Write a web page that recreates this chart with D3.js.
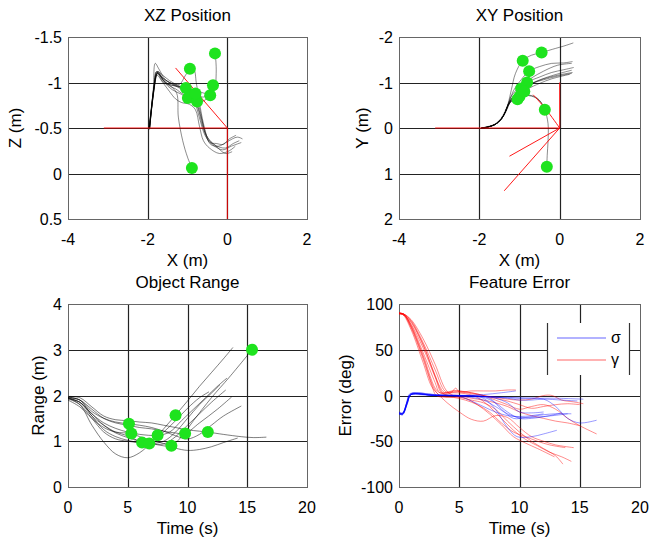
<!DOCTYPE html>
<html>
<head>
<meta charset="utf-8">
<script src="https://cdn.jsdelivr.net/npm/d3@7"></script>
<style>
  body { margin: 0; background: #fff; }
  svg text { font-family: "Liberation Sans", Arial, Helvetica, sans-serif; fill: #000; }
</style>
</head>
<body>
<svg id="fig" width="649" height="540"></svg>
<script>
// ---- data ----

// XZ position: gray tracks [x, z]
var xzTraces = [
  [[-1.97,-0.5],[-1.86,-0.85],[-1.77,-1.12],[-1.65,-1.06],[-1.45,-1.0],[-1.25,-0.95],[-1.05,-0.9],[-0.87,-0.83],[-0.74,-0.72],[-0.62,-0.52],[-0.5,-0.4],[-0.3,-0.31],[-0.05,-0.28],[0.15,-0.33],[0.3,-0.36]],
  [[-1.96,-0.48],[-1.86,-0.92],[-1.81,-1.21],[-1.72,-1.15],[-1.55,-1.03],[-1.35,-0.98],[-1.15,-0.94],[-0.95,-0.88],[-0.8,-0.76],[-0.68,-0.58],[-0.56,-0.42],[-0.38,-0.32],[-0.12,-0.26],[0.1,-0.3],[0.35,-0.34]],
  [[-1.95,-0.5],[-1.84,-0.95],[-1.76,-1.1],[-1.6,-1.02],[-1.42,-0.96],[-1.27,-0.88],[-1.23,-0.62],[-1.12,-0.36],[-1.0,-0.18],[-0.89,-0.06]],
  [[-1.95,-0.5],[-1.83,-0.95],[-1.74,-1.12],[-1.6,-1.04],[-1.4,-0.99],[-1.2,-0.98],[-1.05,-1.08],[-0.94,-1.14],[-0.84,-1.14],[-0.78,-1.0],[-0.7,-0.78],[-0.6,-0.55],[-0.48,-0.38],[-0.28,-0.3],[-0.05,-0.22],[0.12,-0.24]],
  [[-1.96,-0.5],[-1.82,-1.0],[-1.74,-1.1],[-1.55,-1.0],[-1.3,-0.96],[-1.0,-0.93],[-0.72,-0.9],[-0.48,-0.88],[-0.32,-0.95],[-0.28,-1.1],[-0.29,-1.25],[-0.31,-1.32]],
  [[-1.95,-0.5],[-1.83,-0.97],[-1.76,-1.1],[-1.6,-1.0],[-1.4,-0.97],[-1.1,-0.95],[-0.85,-0.9],[-0.6,-0.84],[-0.45,-0.9],[-0.36,-0.97]],
  [[-1.96,-0.49],[-1.84,-0.93],[-1.75,-1.11],[-1.58,-1.0],[-1.38,-0.92],[-1.15,-0.87],[-0.9,-0.8],[-0.7,-0.78],[-0.52,-0.82],[-0.43,-0.86]],
  [[-1.95,-0.5],[-1.85,-0.9],[-1.77,-1.08],[-1.62,-1.0],[-1.45,-0.9],[-1.3,-0.82],[-1.15,-0.78],[-0.95,-0.76],[-0.8,-0.7],[-0.7,-0.52],[-0.6,-0.36],[-0.45,-0.28],[-0.2,-0.22],[0.05,-0.25],[0.2,-0.3]],
  [[-1.96,-0.5],[-1.85,-0.93],[-1.78,-1.12],[-1.64,-1.05],[-1.48,-0.97],[-1.3,-0.93],[-1.1,-0.87],[-0.9,-0.85],[-0.78,-0.78],[-0.66,-0.62],[-0.55,-0.45],[-0.42,-0.32],[-0.22,-0.3],[0.0,-0.35],[0.25,-0.4],[0.38,-0.38]],
  [[-1.95,-0.5],[-1.84,-0.96],[-1.76,-1.12],[-1.62,-1.08],[-1.45,-1.02],[-1.25,-0.97],[-1.05,-0.92],[-0.85,-0.86],[-0.72,-0.75],[-0.64,-0.6],[-0.56,-0.44],[-0.44,-0.34],[-0.28,-0.33],[-0.1,-0.32],[0.05,-0.38],[0.22,-0.42]]
];
var xzDots = [[-0.31,-1.32],[-0.94,-1.15],[-0.36,-0.97],[-1.04,-0.94],[-0.89,-0.86],[-0.99,-0.83],[-0.76,-0.79],[-0.43,-0.86],[-0.89,-0.06],[-0.8,-0.88]];
var xzRed = [
  [[-3.1,-0.5],[0,-0.5]],
  [[0,-0.5],[0,0.5]],
  [[0,-0.5],[-1.3,-1.16]]
];

// XY position: gray tracks [x, y]
var xyTraces = [
  [[-1.95,0.0],[-1.8,-0.02],[-1.6,-0.08],[-1.45,-0.2],[-1.35,-0.36],[-1.28,-0.55],[-1.2,-0.85],[-1.1,-1.2],[-0.92,-1.48],[-0.7,-1.6],[-0.45,-1.66],[-0.1,-1.75],[0.1,-1.8],[0.34,-1.87]],
  [[-1.95,0.0],[-1.8,-0.02],[-1.6,-0.08],[-1.45,-0.2],[-1.35,-0.36],[-1.27,-0.55],[-1.15,-0.82],[-0.95,-1.07],[-0.76,-1.25],[-0.5,-1.35],[-0.2,-1.42],[0.1,-1.43],[0.32,-1.46]],
  [[-1.94,0.01],[-1.78,-0.02],[-1.6,-0.09],[-1.46,-0.21],[-1.36,-0.37],[-1.28,-0.52],[-1.1,-0.75],[-0.81,-1.0],[-0.5,-1.12],[-0.2,-1.22],[0.1,-1.28],[0.35,-1.33]],
  [[-1.95,0.0],[-1.8,-0.03],[-1.62,-0.08],[-1.46,-0.2],[-1.35,-0.35],[-1.28,-0.52],[-1.15,-0.7],[-0.9,-0.88],[-0.6,-1.02],[-0.3,-1.12],[0.0,-1.2],[0.3,-1.27]],
  [[-1.95,0.01],[-1.8,-0.02],[-1.6,-0.08],[-1.45,-0.2],[-1.34,-0.35],[-1.27,-0.5],[-1.2,-0.62],[-0.96,-0.87],[-0.7,-0.98],[-0.4,-1.06],[-0.1,-1.13],[0.3,-1.2]],
  [[-1.95,0.0],[-1.8,-0.02],[-1.6,-0.08],[-1.45,-0.2],[-1.35,-0.36],[-1.28,-0.5],[-1.2,-0.6],[-1.05,-0.65],[-0.8,-0.85],[-0.5,-0.98],[-0.2,-1.08],[0.25,-1.18]],
  [[-1.95,0.0],[-1.8,-0.02],[-1.6,-0.08],[-1.45,-0.2],[-1.35,-0.36],[-1.28,-0.5],[-1.2,-0.6],[-1.05,-0.68],[-0.75,-0.72],[-0.55,-0.65],[-0.42,-0.5],[-0.37,-0.4]],
  [[-1.95,0.0],[-1.8,-0.02],[-1.6,-0.08],[-1.45,-0.2],[-1.35,-0.36],[-1.28,-0.5],[-1.18,-0.6],[-1.0,-0.7],[-0.7,-0.7],[-0.5,-0.6],[-0.37,-0.4],[-0.29,-0.1],[-0.29,0.3],[-0.31,0.6],[-0.32,0.85]],
  [[-1.95,0.0],[-1.8,-0.02],[-1.6,-0.08],[-1.45,-0.2],[-1.35,-0.36],[-1.28,-0.52],[-1.2,-0.7],[-0.95,-0.95],[-0.7,-1.1],[-0.4,-1.25],[-0.05,-1.38],[0.3,-1.42]],
  [[-1.95,0.0],[-1.8,-0.02],[-1.6,-0.08],[-1.45,-0.2],[-1.35,-0.36],[-1.28,-0.52],[-1.18,-0.66],[-1.0,-0.8],[-0.7,-0.97],[-0.4,-1.08],[-0.05,-1.16],[0.32,-1.22]]
];
var xyDots = [[-0.92,-1.48],[-0.45,-1.66],[-0.76,-1.25],[-0.81,-1.0],[-0.96,-0.87],[-1.0,-0.69],[-1.05,-0.63],[-0.37,-0.4],[-0.32,0.85],[-0.88,-0.8]];
var xyRed = [
  [[-3.1,0],[0,0]],
  [[0,0],[0,-1]],
  [[0,0],[-0.35,-0.42],[-0.66,-0.73]],
  [[0,0],[-1.25,0.62]],
  [[0,0],[-1.38,1.38]]
];

// Object range: [time s, range m]
var rangeTraces = [
  [[0,1.95],[1,1.8],[2,1.35],[3,0.98],[4,0.72],[5,0.64],[6,0.75],[7,0.98],[8,1.27],[9,1.57],[10,1.88],[11,2.2],[12,2.5],[13,2.8],[13.8,3.05]],
  [[0,1.93],[1,1.85],[2,1.6],[3,1.35],[4,1.18],[5,1.08],[6,1.0],[7,0.95],[8,0.9],[8.65,0.9],[9.5,1.1],[10.5,1.45],[12,1.95],[13.5,2.4],[15.4,3.0]],
  [[0,1.96],[1,1.9],[2,1.55],[3,1.25],[4,1.1],[5,1.02],[6,0.97],[6.8,0.95],[8,1.0],[9,1.2],[10,1.5],[11,1.8],[12,2.05],[12.7,2.23]],
  [[0,1.95],[1,1.85],[2,1.55],[3,1.35],[4,1.2],[5,1.12],[6,1.0],[7,0.95],[8,0.94],[9,1.1],[10,1.35],[11,1.6],[12,1.85],[13.2,2.12]],
  [[0,1.97],[1,1.9],[2,1.7],[3,1.5],[4,1.4],[5,1.35],[6,1.3],[7,1.27],[8,1.22],[9,1.18],[9.8,1.17],[11,1.4],[12.5,1.7],[13.7,1.97]],
  [[0,1.98],[1,1.95],[2,1.75],[3,1.55],[4,1.47],[5,1.45],[6,1.42],[7,1.4],[8,1.35],[9,1.3],[10,1.25],[11,1.22],[11.7,1.2],[13,1.15],[14.5,1.1],[15.5,1.08],[16.6,1.09]],
  [[0,1.95],[1,1.9],[2,1.65],[3,1.5],[4,1.42],[5.1,1.38],[6,1.35],[7,1.3],[8,1.22],[9,1.12],[10,1.05],[11,1.15],[12,1.35],[13,1.55],[14.5,1.77]],
  [[0,1.9],[1,1.75],[2,1.5],[3,1.3],[4,1.2],[5.3,1.17],[6,1.1],[7,1.02],[8,0.95],[9,0.85],[10,0.8],[11,0.82],[12,0.88],[13,0.97],[14.2,1.07]],
  [[0,1.93],[1,1.8],[2,1.5],[3,1.2],[4,1.05],[5,1.0],[6.2,0.97],[7,1.0],[8,1.2],[9,1.45],[10,1.72],[11,1.95],[11.8,2.08]],
  [[0,1.94],[1,1.85],[2,1.6],[3,1.4],[4,1.28],[5,1.2],[6,1.15],[7.5,1.13],[8.5,1.2],[9.5,1.45],[10.5,1.7],[11.5,1.95],[12.5,2.2],[13.3,2.38]]
];
var rangeDots = [[5.1,1.38],[5.3,1.17],[6.2,0.97],[6.8,0.95],[7.5,1.13],[8.65,0.9],[9.0,1.57],[9.8,1.17],[11.7,1.2],[15.4,3.0]];

// Feature error: [time s, error deg]
var sigmaTraces = [
  [[0,-18],[0.3,-20],[0.6,-12],[0.9,1],[1.5,1],[3,0],[5,0],[7,-1],[9,-2],[11,-3],[13,-3],[15.3,-4]],
  [[0,-20],[0.3,-21],[0.6,-10],[0.9,2],[2,1],[4,0],[6,-1],[7.5,-3],[8.5,-15],[9.5,-25],[10.5,-24],[12,-21],[13,-20],[14.3,-20]],
  [[0,-19],[0.3,-20],[0.7,-8],[1,1],[3,0],[5,0],[6,-1],[7,-3],[8,-15],[9,-35],[9.8,-45],[11,-45],[12,-42],[13.1,-38]],
  [[0,-20],[0.3,-19],[0.7,-6],[1,1],[3,0],[6,0],[8,-2],[10,-3],[12,-4],[13,-12],[14,-25],[15,-30],[16.4,-27]],
  [[0,-20],[0.3,-20],[0.7,-5],[1,2],[3,1],[5,0],[7,1],[8.5,3],[9.7,5]],
  [[0,-19],[0.3,-20],[0.7,-7],[1,1],[3,0],[5,-1],[6,-2],[7,-5],[8,-12],[9,-20],[10,-24],[12,-23],[14,-20]],
  [[0,-20],[0.3,-21],[0.7,-9],[1,1],[3,0],[5,0],[7,-2],[8,-8],[9,-18],[10,-25],[11,-25],[12.5,-22],[13.5,-19]],
  [[0,-18],[0.3,-19],[0.7,-6],[1,2],[3,1],[5,0],[7,-1],[9,-3],[10,-5],[11,-5],[12,-4],[13.5,-5],[14.8,-6]],
  [[0,-20],[0.3,-20],[0.7,-8],[1,1],[3,0],[5,-1],[6,-6],[7,-12],[8,-18],[9,-22],[10,-23],[11,-22],[12,-20]],
  [[0,-19],[0.3,-20],[0.7,-7],[1,1],[3,0],[5,0],[7,-1],[8,-3],[9,-8],[10,-18],[11,-19],[12,-18]]
];
var gammaTraces = [
  [[0,90],[0.4,89],[1,82],[2,58],[3,28],[3.8,5],[4.3,3],[4.7,8],[5,4],[6,5],[7,5],[8,5],[9,6],[9.7,6]],
  [[0,90],[0.4,88],[1,74],[2,40],[2.7,12],[3.1,0],[4,-2],[5,-2],[6,-5],[7,-8],[8,-15],[9,-28],[10,-40],[11,-50],[12,-58],[13,-66],[13.6,-75]],
  [[0,89],[0.4,88],[1,78],[2,52],[3,20],[3.6,2],[4.5,3],[5.5,2],[6.5,-2],[7.5,-12],[8.5,-25],[9.5,-38],[10.5,-48],[11.5,-55],[12.5,-62],[13.5,-67],[14.3,-72]],
  [[0,90],[0.3,89],[1,72],[2,36],[2.7,10],[3.2,2],[4,-8],[5,-18],[6,-26],[7,-28],[8,-22],[9,-24],[10,-35],[11,-45],[12,-50],[13,-54],[14.5,-57]],
  [[0,90],[0.4,89],[1,83],[2,62],[3,34],[3.9,6],[4.5,0],[5.5,-3],[6.5,-10],[7.5,-20],[8.5,-32],[9.5,-45],[10.5,-52],[11.5,-58],[12.9,-67]],
  [[0,90],[0.4,89],[1,77],[2,47],[3,14],[3.4,3],[4.5,5],[6,3],[7,0],[8,-5],[9,-10],[10,-15],[11,-12],[12,-10],[13,-15],[14,-25],[15,-33],[16.4,-42]],
  [[0,89],[0.4,88],[1,80],[2,55],[3,22],[3.7,2],[5,0],[6,-3],[7,-5],[8,-8],[9,-12],[10,-18],[11,-22],[12,-25],[13,-28],[14,-30],[15,-33]],
  [[0,90],[0.4,89],[1,76],[2,44],[3,8],[3.4,3],[5,4],[6,2],[7,0],[8,-2],[9,-4],[10,-5],[11,-4],[12,0],[12.7,0],[13.5,-5],[14.5,-7],[15.3,-9]],
  [[0,90],[0.4,88],[1,75],[2,42],[2.9,8],[3.4,0],[4.5,-2],[5.5,-5],[6.5,-10],[7.5,-18],[8.5,-30],[9.5,-40],[10.5,-45],[11.5,-50],[12.5,-54],[13.8,-57]],
  [[0,90],[0.4,89],[1,81],[2,56],[3.3,12],[3.8,3],[4.5,5],[5,5],[6,3],[7,0],[8,-3],[9,-6],[10,-10],[11,-14],[12,-12],[13,-10],[14,-9],[15,-10]]
];
var legendLabels = ["\u03c3", "\u03b3"];

// ---- drawing ----
var svg = d3.select('#fig');
var GREEN = "#1ee31e";

function drawPanel(o)
{
    var g = svg.append("g");

    var xScale = d3.scaleLinear().domain(o.xDomain).range([o.left, o.right]);
    var yScale = d3.scaleLinear().domain(o.yDomain).range([o.top, o.bottom]);

    // grid
    g.selectAll(".vg")
        .data(o.xTicks.slice(1, -1))
        .enter().append("line")
        .attr("x1", function(d){ return Math.round(xScale(d)) + 0.5; })
        .attr("x2", function(d){ return Math.round(xScale(d)) + 0.5; })
        .attr("y1", o.top).attr("y2", o.bottom)
        .style("stroke", "#222").style("stroke-width", 1.2);

    g.selectAll(".hg")
        .data(o.yTicks.slice(1, -1))
        .enter().append("line")
        .attr("y1", function(d){ return Math.round(yScale(d)) + 0.5; })
        .attr("y2", function(d){ return Math.round(yScale(d)) + 0.5; })
        .attr("x1", o.left).attr("x2", o.right)
        .style("stroke", "#222").style("stroke-width", 1.2);

    // frame
    g.append("rect")
        .attr("x", o.left + 0.5).attr("y", o.top + 0.5)
        .attr("width", o.right - o.left).attr("height", o.bottom - o.top)
        .style("fill", "none").style("stroke", "#666").style("stroke-width", 1);

    // tick labels
    g.selectAll(".xt")
        .data(o.xTicks)
        .enter().append("text")
        .attr("x", function(d){ return xScale(d); })
        .attr("y", o.bottom + 26)
        .attr("text-anchor", "middle")
        .style("font-size", "16px")
        .text(function(d){ return d; });

    g.selectAll(".yt")
        .data(o.yTicks)
        .enter().append("text")
        .attr("x", o.left - 6)
        .attr("y", function(d){ return yScale(d) + 6; })
        .attr("text-anchor", "end")
        .style("font-size", "16px")
        .text(function(d){ return d; });

    // titles and labels
    var cx = (o.left + o.right) / 2;
    g.append("text")
        .attr("x", cx).attr("y", o.top - 16)
        .attr("text-anchor", "middle")
        .style("font-size", "17px")
        .text(o.title);

    g.append("text")
        .attr("x", cx).attr("y", o.bottom + 47)
        .attr("text-anchor", "middle")
        .style("font-size", "17px")
        .text(o.xLabel);

    g.append("text")
        .attr("transform", "translate(" + o.yLabelX + "," + ((o.top + o.bottom) / 2) + ") rotate(-90)")
        .attr("text-anchor", "middle")
        .attr("dy", "0.35em")
        .style("font-size", "17px")
        .text(o.yLabel);

    var line = d3.line()
        .x(function(d){ return xScale(d[0]); })
        .y(function(d){ return yScale(d[1]); })
        .curve(d3.curveCatmullRom.alpha(0.5));

    var plot = g.append("g");

    (o.series || []).forEach(function(s) {
        plot.selectAll(null)
            .data(s.data)
            .enter().append("path")
            .attr("d", line)
            .style("fill", "none")
            .style("stroke", s.color)
            .style("stroke-opacity", s.opacity)
            .style("stroke-width", s.width || 1);
    });

    if (o.dots) {
        plot.selectAll("circle")
            .data(o.dots)
            .enter().append("circle")
            .attr("cx", function(d){ return xScale(d[0]); })
            .attr("cy", function(d){ return yScale(d[1]); })
            .attr("r", 6)
            .style("fill", GREEN);
    }

    return {g: g, x: xScale, y: yScale};
}

drawPanel({
    left: 68, right: 307, top: 37, bottom: 219,
    xDomain: [-4, 2], yDomain: [-1.5, 0.5],
    xTicks: [-4, -2, 0, 2], yTicks: [-1.5, -1, -0.5, 0, 0.5],
    title: "XZ Position", xLabel: "X (m)", yLabel: "Z (m)", yLabelX: 15,
    series: [
        {data: xzTraces, color: "#000", opacity: 0.45},
        {data: xzRed, color: "#ff0000", opacity: 0.9}
    ],
    dots: xzDots
});

drawPanel({
    left: 399, right: 640, top: 37, bottom: 219,
    xDomain: [-4, 2], yDomain: [-2, 2],
    xTicks: [-4, -2, 0, 2], yTicks: [-2, -1, 0, 1, 2],
    title: "XY Position", xLabel: "X (m)", yLabel: "Y (m)", yLabelX: 362,
    series: [
        {data: xyTraces, color: "#000", opacity: 0.45},
        {data: xyRed, color: "#ff0000", opacity: 0.9}
    ],
    dots: xyDots
});

drawPanel({
    left: 68, right: 307, top: 304, bottom: 487,
    xDomain: [0, 20], yDomain: [4, 0],
    xTicks: [0, 5, 10, 15, 20], yTicks: [4, 3, 2, 1, 0],
    title: "Object Range", xLabel: "Time (s)", yLabel: "Range (m)", yLabelX: 38,
    series: [
        {data: rangeTraces, color: "#000", opacity: 0.5}
    ],
    dots: rangeDots
});

var fe = drawPanel({
    left: 399, right: 640, top: 304, bottom: 487,
    xDomain: [0, 20], yDomain: [100, -100],
    xTicks: [0, 5, 10, 15, 20], yTicks: [100, 50, 0, -50, -100],
    title: "Feature Error", xLabel: "Time (s)", yLabel: "Error (deg)", yLabelX: 345,
    series: [
        {data: gammaTraces, color: "#ff0000", opacity: 0.45},
        {data: sigmaTraces, color: "#0000ff", opacity: 0.4}
    ]
});

// legend box
var leg = fe.g.append("g");
leg.append("rect")
    .attr("x", 547).attr("y", 323).attr("width", 83).attr("height", 52)
    .style("fill", "#fff");
leg.selectAll(".edge")
    .data([547.5, 629.5])
    .enter().append("line")
    .attr("x1", function(d){ return d; }).attr("x2", function(d){ return d; })
    .attr("y1", 323).attr("y2", 375)
    .style("stroke", "#333").style("stroke-width", 1.2);
leg.selectAll(".ll")
    .data(legendLabels)
    .enter().append("line")
    .attr("x1", 557).attr("x2", 606)
    .attr("y1", function(d, i){ return 338 + i * 22; })
    .attr("y2", function(d, i){ return 338 + i * 22; })
    .style("stroke", function(d, i){ return i == 0 ? "#0000ff" : "#ff0000"; })
    .style("stroke-opacity", 0.6)
    .style("stroke-width", 1.2);
leg.selectAll(".lt")
    .data(legendLabels)
    .enter().append("text")
    .attr("x", 611)
    .attr("y", function(d, i){ return 343 + i * 22; })
    .style("font-size", "16px")
    .text(function(d){ return d; });
</script>
</body>
</html>
